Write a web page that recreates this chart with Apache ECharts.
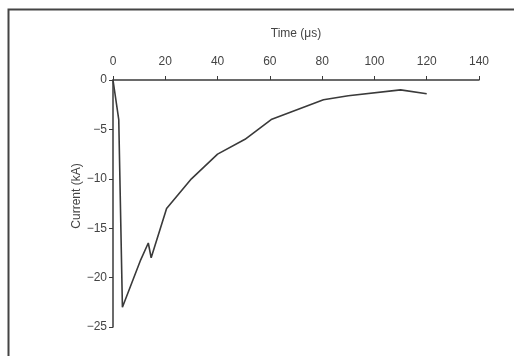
<!DOCTYPE html>
<html>
<head>
<meta charset="utf-8">
<script src="https://cdn.jsdelivr.net/npm/echarts@6/dist/echarts.min.js"></script>
<style>
  html, body { margin: 0; padding: 0; background: #fff; }
  #chart { width: 514px; height: 356px; }
</style>
</head>
<body>
<div id="chart"></div>
<script>
// 时间 (μs) 和电流 (kA)
const timeUs = [0, 2.2, 3.6, 10.6, 13.5, 14.6, 20.5, 30, 40, 50.5, 60.5, 80.5, 90, 110, 120];
const currentKA = [0, -4, -23, -18.2, -16.5, -18, -13, -10, -7.5, -6, -4, -2, -1.6, -1, -1.4];
const xTicks = [0, 20, 40, 60, 80, 100, 120, 140];
const yTicks = [0, -5, -10, -15, -20, -25];

const chart = echarts.init(document.getElementById("chart"));
const ink = "#3a3a3a";
const fontFamily = "Liberation Sans, Arial, sans-serif";

chart.setOption({
  animation: false,
  backgroundColor: "#fff",
  grid: { left: 113, right: 35, top: 80, bottom: 29 },
  xAxis: {
    type: "value",
    position: "top",
    min: xTicks[0],
    max: xTicks[xTicks.length - 1],
    interval: 20,
    name: "Time (μs)",
    nameLocation: "middle",
    nameGap: 40,
    nameTextStyle: { color: "#444", fontSize: 12, fontFamily },
    axisLine: { show: true, onZero: false, lineStyle: { color: ink, width: 1.5 } },
    axisTick: { show: true, length: 4, lineStyle: { color: ink } },
    axisLabel: { color: "#444", fontSize: 12, fontFamily, margin: 12 },
    splitLine: { show: false }
  },
  yAxis: {
    type: "value",
    min: yTicks[yTicks.length - 1],
    max: yTicks[0],
    interval: 5,
    axisLine: { show: true, onZero: false, lineStyle: { color: ink, width: 1.5 } },
    axisTick: { show: true, length: 4, lineStyle: { color: ink } },
    axisLabel: {
      color: "#444", fontSize: 12, fontFamily, margin: 6,
      formatter: (v) => (v < 0 ? "\u2212" + Math.abs(v) : String(v))
    },
    splitLine: { show: false }
  },
  series: [
    {
      type: "line",
      data: timeUs.map((t, i) => [t, currentKA[i]]),
      showSymbol: false,
      lineStyle: { color: ink, width: 1.6 }
    }
  ],
  graphic: [
    {
      type: "polyline",
      shape: { points: [[8.5, 356], [8.5, 9.5], [514, 9.5]] },
      style: { stroke: "#444", lineWidth: 2, fill: null }
    },
    {
      // 纵轴标题
      type: "text",
      x: 77,
      y: 196,
      rotation: Math.PI / 2,
      style: {
        text: "Current (kA)",
        fill: "#444",
        fontSize: 12,
        fontFamily,
        align: "center",
        verticalAlign: "middle"
      }
    }
  ]
});
</script>
</body>
</html>
